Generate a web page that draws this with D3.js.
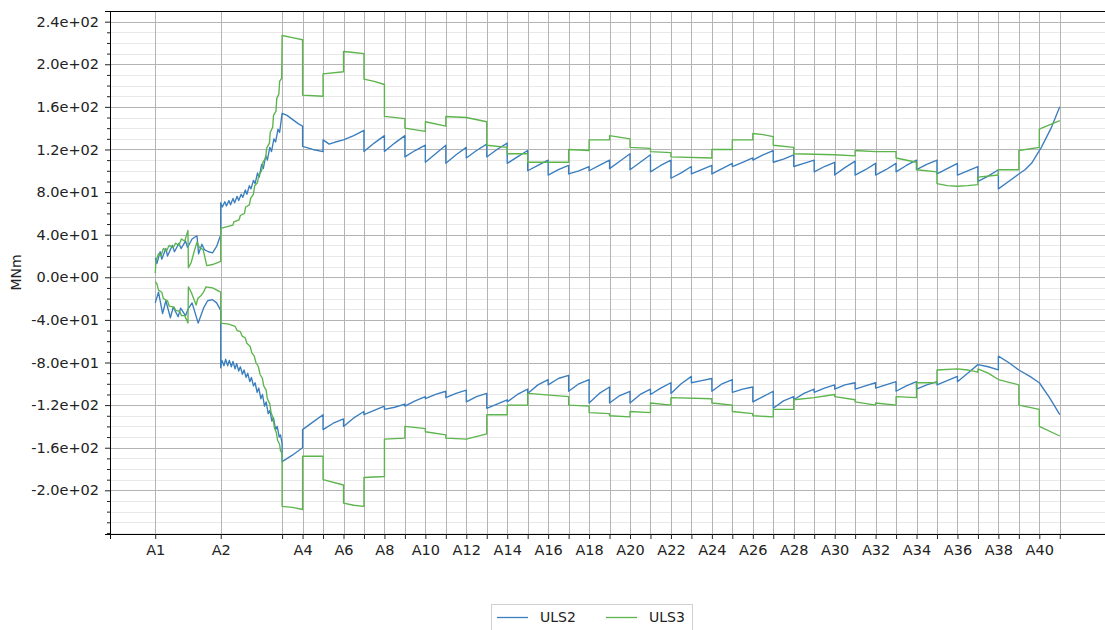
<!DOCTYPE html>
<html><head><meta charset="utf-8">
<script src="https://cdn.jsdelivr.net/npm/d3@7"></script>
<style>body{margin:0;background:#fff;} svg{display:block;font-family:"DejaVu Sans",sans-serif;}</style>
</head><body><svg id="c" width="1105" height="630"></svg>
<script>
// supports (x positions along the structure, m)
const supportPos = [0,160,310,360,410,460,510,560,610,660,710,760,810,860,910,960,1010,1060,1110,1160,1210,1260,1310,1360,1410,1460,1510,1560,1610,1660,1710,1760,1810,1860,1910,1960,2010,2060,2110,2160,2210];
const tickLabels = ["A1","A2","","A4","","A6","","A8","","A10","","A12","","A14","","A16","","A18","","A20","","A22","","A24","","A26","","A28","","A30","","A32","","A34","","A36","","A38","","A40",""];
const yTicks = [-200,-160,-120,-80,-40,0,40,80,120,160,200,240];
const yMinorTicks = [-240,-230,-220,-210,-190,-180,-170,-150,-140,-130,-110,-100,-90,-70,-60,-50,-30,-20,-10,10,20,30,50,60,70,90,100,110,130,140,150,170,180,190,210,220,230,250];
const seriesNames = ["ULS2","ULS3"];
const seriesColors = ["#3a7ebf","#5cb44c"];

const uls2Max = [[0,18],[4,13],[12,24],[16,17],[26,27],[30,20],[42,30],[47,24],[58,32],[63,27],[74,34],[79,28],[90,36],[102,39],[106,22],[114,31],[120,26],[130,24],[140,23],[150,29],[160,40],[160,70],
[164,66],[170,71],[174,67],[180,72],[184,68],[190,74],[194,70],[200,76],[204,72],[210,78],[214,75],[220,82],[224,78],[230,86],[234,83],[240,91],[244,88],[250,98],[254,94],[260,106],[264,102],[270,114],[274,110],[280,122],[284,118],[290,130],[294,127],[300,139],[304,136],[310,154],
[322,152],[336,148],[350,144],[360,142],[360,123],[385,120],[410,118],[410,129],[425,125],[440,127],[460,129],[485,133],[510,138],[510,118],[535,126],[560,133],[560,118],[585,126],[610,133],[610,113],[635,119],[660,124],[660,108],[685,116],[710,124],[710,107],[735,115],[760,122],[760,112],[785,119],[810,125],[810,113],[835,120],[860,126],[860,107],[885,113],[910,119],[910,100],[935,105],[960,110],[960,96],[985,101],[1010,105],[1010,97],[1035,100],[1060,104],[1060,100],[1085,105],[1110,110],[1110,102],[1135,109],[1160,116],[1160,101],[1185,108],[1210,115],[1210,99],[1235,105],[1260,110],[1260,93],[1285,98],[1310,104],[1310,97],[1335,101],[1360,105],[1360,97],[1385,102],[1410,107],[1410,104],[1435,108],[1460,112],[1460,110],[1485,115],[1510,119],[1510,108],[1535,111],[1560,115],[1560,104],[1585,107],[1610,110],[1610,99],[1635,104],[1660,108],[1660,96],[1685,103],[1710,109],[1710,96],[1735,101],[1760,107],[1760,96],[1785,101],[1810,107],[1810,99],[1835,105],[1860,110],[1860,101],[1885,106],[1910,110],[1910,97],[1935,102],[1960,107],[1960,96],[1985,100],[2010,104],[2010,90],[2035,95],[2060,101],[2060,83],[2085,90],[2110,97],[2125,101],[2141,107],[2165,122],[2190,141],[2210,160]];

const uls2Min = [[0,-24],[8,-14],[18,-34],[26,-22],[37,-38],[44,-28],[56,-37],[62,-29],[74,-36],[80,-30],[90,-24],[105,-43],[118,-29],[128,-22],[140,-21],[150,-24],[160,-31],[160,-85],
[163,-78],[168,-83],[172,-77],[177,-83],[181,-78],[186,-84],[190,-79],[195,-86],[199,-81],[204,-88],[208,-84],[213,-91],[217,-87],[222,-94],[226,-90],[231,-98],[235,-94],[240,-102],[244,-99],[249,-108],[253,-104],[258,-114],[262,-110],[267,-121],[271,-117],[276,-128],[280,-125],[285,-135],[289,-132],[294,-143],[298,-140],[303,-150],[306,-148],[310,-156],[310,-173],
[335,-167],[360,-160],[360,-143],[385,-136],[410,-129],[410,-143],[435,-137],[460,-133],[460,-140],[485,-132],[510,-126],[510,-129],[535,-125],[560,-121],[560,-124],[585,-122],[610,-119],[610,-121],[635,-116],[660,-112],[660,-114],[685,-110],[710,-107],[710,-113],[735,-109],[760,-106],[760,-117],[785,-112],[810,-109],[810,-123],[835,-119],[860,-115],[860,-117],[885,-110],[910,-105],[910,-109],[935,-101],[960,-96],[960,-101],[985,-95],[1010,-92],[1010,-107],[1035,-100],[1060,-96],[1060,-118],[1085,-109],[1110,-103],[1110,-118],[1135,-111],[1160,-107],[1160,-118],[1185,-110],[1210,-105],[1210,-110],[1235,-104],[1260,-99],[1260,-109],[1285,-100],[1310,-93],[1310,-99],[1335,-97],[1360,-95],[1360,-107],[1385,-100],[1410,-96],[1410,-108],[1435,-105],[1460,-103],[1460,-117],[1485,-112],[1510,-107],[1510,-123],[1535,-116],[1560,-112],[1560,-115],[1585,-109],[1610,-105],[1610,-108],[1635,-104],[1660,-101],[1660,-105],[1685,-101],[1710,-99],[1710,-105],[1735,-102],[1760,-99],[1760,-104],[1785,-101],[1810,-98],[1810,-107],[1835,-102],[1860,-98],[1860,-105],[1885,-101],[1910,-98],[1910,-101],[1935,-97],[1960,-93],[1960,-98],[1985,-90],[2010,-82],[2035,-84],[2060,-87],[2060,-74],[2085,-80],[2110,-87],[2137,-93],[2160,-99],[2185,-113],[2210,-129]];

const uls3Max = [[0,4],[2,16],[8,22],[14,20],[20,27],[28,25],[34,30],[44,28],[50,32],[58,30],[64,36],[72,34],[80,44],[81,9],[88,14],[95,24],[102,33],[108,28],[117,26],[126,11],[140,12],[160,15],[160,46],
[190,49],[192,52],[205,54],[208,58],[218,60],[221,66],[230,68],[233,74],[240,78],[243,86],[250,89],[253,96],[260,100],[263,108],[270,112],[272,121],[279,126],[281,136],[287,141],[289,152],[295,156],[297,168],[302,172],[304,184],[309,187],[310,227],
[335,225],[360,223],[360,171],[410,170],[410,191],[460,193],[460,212],[485,211],[510,210],[510,186],[535,184],[560,181],[560,151],[610,149],[610,140],[660,137],[660,146],[710,142],[710,151],[760,150],[810,146],[810,124],[860,122],[860,116],[910,116],[910,108],[1010,108],[1010,120],[1060,119],[1060,129],[1110,129],[1110,133],[1160,130],[1160,122],[1210,121],[1210,118],[1260,117],[1260,113],[1360,112],[1360,120],[1410,120],[1410,129],[1460,129],[1460,135],[1485,134],[1510,132],[1510,124],[1560,122],[1560,116],[1660,115],[1710,114],[1710,119],[1760,118],[1810,118],[1810,112],[1860,108],[1860,101],[1910,99],[1910,88],[1935,86],[1960,85.5],[1985,86],[2010,87],[2010,94],[2060,96],[2060,101],[2110,101],[2110,119],[2160,122],[2160,139],[2185,143],[2210,147]];

const uls3Min = [[0,-4],[4,-6],[8,-12],[16,-14],[20,-20],[30,-22],[34,-27],[46,-28],[50,-31],[60,-32],[64,-36],[72,-36],[80,-43],[81,-9],[88,-14],[96,-22],[100,-26],[104,-20],[112,-17],[118,-14],[124,-9],[140,-10],[160,-14],[160,-43],
[180,-44],[195,-46],[200,-50],[208,-51],[212,-55],[220,-57],[224,-62],[232,-65],[236,-71],[242,-74],[246,-80],[252,-84],[256,-91],[262,-95],[265,-102],[271,-106],[274,-114],[280,-119],[283,-127],[288,-132],[291,-141],[296,-146],[299,-153],[304,-157],[306,-163],[310,-165],[310,-215],
[335,-216],[360,-218],[360,-168],[410,-168],[410,-190],[460,-195],[460,-212],[485,-214],[510,-215],[510,-188],[560,-187],[560,-152],[610,-151],[610,-140],[660,-142],[660,-145],[710,-148],[710,-151],[760,-152],[810,-147],[810,-129],[860,-129],[860,-120],[910,-120],[910,-109],[1010,-112],[1010,-120],[1060,-121],[1060,-127],[1110,-128],[1110,-130],[1160,-131],[1160,-126],[1210,-127],[1210,-118],[1260,-120],[1260,-113],[1360,-114],[1360,-118],[1410,-120],[1410,-126],[1460,-128],[1460,-130],[1510,-131],[1510,-124],[1560,-124],[1560,-115],[1610,-113],[1660,-110],[1660,-112],[1710,-115],[1710,-117],[1760,-120],[1760,-118],[1810,-120],[1810,-112],[1860,-113],[1860,-99],[1910,-99],[1910,-87],[1960,-86],[1985,-87],[2010,-89],[2010,-86],[2035,-90],[2060,-96],[2110,-101],[2110,-120],[2160,-124],[2160,-140],[2210,-149]];

const lines = [
  {name: seriesNames[0], color: seriesColors[0], data: uls2Max},
  {name: seriesNames[0], color: seriesColors[0], data: uls2Min},
  {name: seriesNames[1], color: seriesColors[1], data: uls3Max},
  {name: seriesNames[1], color: seriesColors[1], data: uls3Min}
];

const svg = d3.select("#c");
const L = 110, R = 1105, T = 11, B = 534;
const x = d3.scaleLinear().domain([-110.5, 2320.5]).range([L, R]);
const y = d3.scaleLinear().domain([-241, 250]).range([B, T]);

// minor horizontal grid
svg.append("g").selectAll("line").data(yMinorTicks.filter(v => y(v) > T && y(v) < B)).join("line")
  .attr("x1", L).attr("x2", R).attr("y1", d => Math.round(y(d)) + 0.5).attr("y2", d => Math.round(y(d)) + 0.5)
  .attr("stroke", "#e8e8e8").attr("stroke-width", 1);
// major horizontal grid
svg.append("g").selectAll("line").data(yTicks).join("line")
  .attr("x1", L).attr("x2", R).attr("y1", d => Math.round(y(d)) + 0.5).attr("y2", d => Math.round(y(d)) + 0.5)
  .attr("stroke", "#b4b4b4").attr("stroke-width", 1);
// vertical grid at supports
svg.append("g").selectAll("line").data(supportPos).join("line")
  .attr("x1", d => Math.round(x(d)) + 0.5).attr("x2", d => Math.round(x(d)) + 0.5).attr("y1", T).attr("y2", B)
  .attr("stroke", "#b4b4b4").attr("stroke-width", 1);

const lineGen = d3.line().x(d => x(d[0])).y(d => y(d[1]));
svg.append("g").selectAll("path").data(lines).join("path")
  .attr("d", d => lineGen(d.data)).attr("fill", "none")
  .attr("stroke", d => d.color).attr("stroke-width", 1.35).attr("stroke-linejoin", "round");

const fmt = v => {
  const s = v.toExponential(1);
  const [m, e] = s.split("e");
  return m + "e" + e[0] + e.slice(1).padStart(2, "0");
};

// y axis
const yAxis = svg.append("g").attr("transform", `translate(${L},0)`)
  .call(d3.axisLeft(y).tickValues(yTicks).tickFormat(fmt).tickSize(5).tickPadding(6));
svg.append("g").attr("transform", `translate(${L},0)`)
  .call(d3.axisLeft(y).tickValues(yMinorTicks.filter(v => y(v) > T && y(v) < B)).tickFormat("").tickSize(3))
  .call(g => g.select(".domain").remove());
// x axis
const xAxis = svg.append("g").attr("transform", `translate(0,${B})`)
  .call(d3.axisBottom(x).tickValues(supportPos).tickFormat((d, i) => tickLabels[i]).tickSize(5).tickPadding(6));
[yAxis, xAxis].forEach(g => {
  g.selectAll("text").attr("font-size", 14.5).attr("fill", "#222").attr("font-family", "DejaVu Sans");
  g.select(".domain").attr("stroke", "#000");
});
svg.selectAll(".tick line").attr("stroke", "#222");
// top spine
svg.append("line").attr("x1", L).attr("x2", R).attr("y1", T + 0.5).attr("y2", T + 0.5).attr("stroke", "#000");

// y label
svg.append("text").attr("transform", `translate(21,${(T + B) / 2}) rotate(-90)`)
  .attr("text-anchor", "middle").attr("font-size", 14).attr("fill", "#222").text("MNm");

// legend
const lg = svg.append("g");
lg.append("rect").attr("x", 491.5).attr("y", 604.5).attr("width", 201).attr("height", 32)
  .attr("fill", "#fff").attr("stroke", "#d0d0d0");
seriesNames.forEach((n, i) => {
  const x0 = 497 + i * 109;
  lg.append("line").attr("x1", x0).attr("x2", x0 + 31).attr("y1", 617.5).attr("y2", 617.5)
    .attr("stroke", seriesColors[i]).attr("stroke-width", 1.3);
  lg.append("text").attr("x", x0 + 43).attr("y", 622).attr("font-size", 14).attr("fill", "#222").text(n);
});
</script></body></html>
